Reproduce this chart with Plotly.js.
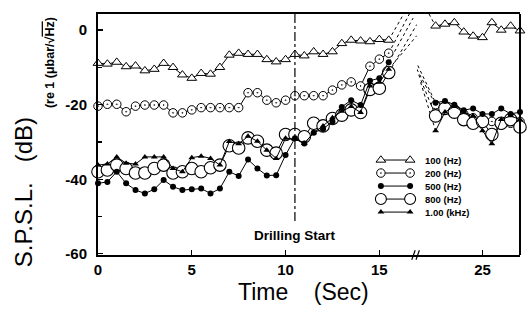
<!DOCTYPE html>
<html><head><meta charset="utf-8">
<script src="https://cdn.plot.ly/plotly-3.0.1.min.js"></script>
<style>html,body{margin:0;padding:0;background:#fff;}#chart{width:528px;height:309px;}</style>
</head><body><div id="chart"></div>
<script>
// ---- data ----
const timeLeft = [0,0.5,1,1.5,2,2.5,3,3.5,4,4.5,5,5.5,6,6.5,7,7.5,8,8.5,9,9.5,10,10.5,11,11.5,12,12.5,13,13.5,14,14.5,15,15.5];
const timeRight = [22.5,23,23.5,24,24.5,25,25.5,26,26.5,27];

const hz100Left = [-8.9,-9.1,-8.6,-9.8,-9.6,-10.9,-10.5,-8.9,-10,-12,-12.9,-11.6,-11.8,-10,-6.7,-6.2,-6.5,-6.5,-7.9,-8.5,-7.9,-6.5,-6.9,-5.8,-6.5,-5.8,-3.6,-2.7,-2.9,-3.1,-2.5,-2.7];
const hz200Left = [-20.4,-19.9,-19.9,-21.9,-20.4,-20.1,-20.1,-20.1,-22.2,-22.2,-21.4,-20.8,-20.8,-20.8,-20.8,-20.8,-16.8,-16.8,-18.8,-19.5,-18.8,-17.6,-17.6,-17.6,-17.6,-16.1,-14.7,-13.9,-15.0,-9.7,-7.8,-6.2];
const hz500Left = [-41.1,-40.7,-38,-41.1,-42.9,-43.8,-42.7,-40.2,-42,-42.9,-42.7,-42.5,-43.8,-42.5,-38,-39.1,-34.7,-37.1,-39,-38.9,-33.5,-29,-30.4,-27.5,-26.5,-24.5,-20.6,-18.8,-20.1,-13.6,-12.9,-8.6];
const hz800Left = [-38,-37.5,-36.2,-37.1,-38.3,-38.3,-37.1,-36.2,-38.3,-38,-37.1,-38,-36.9,-36.2,-31,-31.6,-28.9,-29.8,-32.2,-33,-28,-28,-28.6,-25,-25.7,-23.7,-22.8,-21.4,-22.1,-15.9,-15.6,-11.4];
const khz1Left = [-36.2,-35.9,-34,-35.7,-35.9,-34,-34,-34,-37.1,-38,-34.2,-33.8,-34.4,-36.2,-29.9,-30.5,-28.5,-29.8,-32.2,-34.4,-29,-29.2,-30.4,-27.5,-25.7,-23.5,-21.8,-20.5,-22.1,-15,-14,-10.5];

const hz100Right = [1.1,1.6,2.0,-0.5,-1.6,-2.0,2.0,0,1.1,-0.2];
const hz200Right = [-20,-21,-21,-22.5,-23.5,-24,-24.5,-25.5,-25,-24.5];
const hz500Right = [-19.5,-19,-20,-21.5,-21,-22.5,-22.5,-21,-22.5,-22];
const hz800Right = [-23,-21,-22,-24,-25,-24.5,-28,-25,-24,-26];
const khz1Right = [-27,-22,-20.5,-22,-23,-27,-30.5,-24,-23,-24];

// dotted extrapolations toward the axis break (time, value)
const extLeftTime = {hz100:[15.5,16.3], hz200:[15.5,16.6], hz500:[15.5,16.8], hz800:[15.5,17.0], khz1:[15.5,17.0]};
const extLeftVal  = {hz100:[-2.7,4.3], hz200:[-6.2,4.3], hz500:[-8.6,3.2], hz800:[-11.4,1.5], khz1:[-10.5,-1.5]};
const extRightTime = {hz100:[22.15,22.5], hz200:[21.5,22.5], hz500:[21.55,22.5], hz800:[21.6,22.5], khz1:[21.7,22.5]};
const extRightVal  = {hz100:[4.3,1.1], hz200:[-10.5,-20], hz500:[-9.5,-19.5], hz800:[-12,-23], khz1:[-14,-27]};

const seriesNames = ['100 (Hz)','200 (Hz)','500 (Hz)','800 (Hz)','1.00 (kHz)'];
const yTickVals = [0,-20,-40,-60];
const yTickText = ['0','-20','-40','-60'];
const xTickLeft = [0,5,10,15];
const xTickRight = [25];
const drillTime = 10.5;

// ---- styles ----
const K = '#000';
const styles = {
  hz100: {symbol:'triangle-up', size:8.5, color:'#fff', line:{color:K,width:1}},
  hz200: {symbol:'circle-dot', size:8.5, color:'#fff', line:{color:K,width:1}},
  hz500: {symbol:'circle', size:6, color:K, line:{color:K,width:0}},
  hz800: {symbol:'circle', size:12.5, color:'#fff', line:{color:K,width:1.1}},
  khz1: {symbol:'triangle-up', size:6, color:K, line:{color:K,width:0}}
};
const leftData = {hz100:hz100Left, hz200:hz200Left, hz500:hz500Left, hz800:hz800Left, khz1:khz1Left};
const rightData = {hz100:hz100Right, hz200:hz200Right, hz500:hz500Right, hz800:hz800Right, khz1:khz1Right};
const order = ['hz100','hz200','hz800','hz500','khz1'];
const keys = ['hz100','hz200','hz500','hz800','khz1'];

const traces = [];
order.forEach(k => {
  traces.push({x:extLeftTime[k], y:extLeftVal[k], xaxis:'x', yaxis:'y', mode:'lines', line:{color:K,width:1,dash:'dot'}, showlegend:false, hoverinfo:'skip'});
  traces.push({x:extRightTime[k], y:extRightVal[k], xaxis:'x2', yaxis:'y', mode:'lines', line:{color:K,width:1,dash:'dot'}, showlegend:false, hoverinfo:'skip'});
});
order.forEach(k => {
  traces.push({x:timeLeft, y:leftData[k], xaxis:'x', yaxis:'y', mode:'lines+markers', line:{color:K,width:1}, marker:styles[k], showlegend:false, cliponaxis:false});
  traces.push({x:timeRight, y:rightData[k], xaxis:'x2', yaxis:'y', mode:'lines+markers', line:{color:K,width:1}, marker:styles[k], showlegend:false, cliponaxis:false});
});
keys.forEach((k,i) => {
  traces.push({x:[0,1], y:[i,i], xaxis:'x3', yaxis:'y3', mode:'lines+markers', line:{color:K,width:1}, marker:Object.assign({}, styles[k], k==='hz800'?{size:11}:{}), showlegend:false, hoverinfo:'skip', cliponaxis:false});
});

const FONT = 'Liberation Sans, Arial, sans-serif';
const splitFrac = 17/(17+5.5);

const annotations = [
  {xref:'paper', yref:'paper', x:-0.178, y:0.26, text:'S.P.S.L.&nbsp;&nbsp;&nbsp;(dB)', textangle:-90, showarrow:false, font:{family:FONT,size:24,color:K}, xanchor:'center', yanchor:'middle'},
  {xref:'paper', yref:'paper', x:-0.114, y:0.80, text:'(re 1 (μbar/√<span style="text-decoration:overline">Hz</span>)', textangle:-90, showarrow:false, font:{family:FONT,size:12.5,color:K,weight:700}, xanchor:'center', yanchor:'middle'},
  {xref:'paper', yref:'paper', x:0.486, y:-0.155, text:'Time&nbsp;&nbsp;&nbsp;&nbsp;(Sec)', showarrow:false, font:{family:FONT,size:23,color:K}, xanchor:'center', yanchor:'middle'},
  {xref:'x', yref:'y', x:drillTime, y:-55, text:'<b>Drilling Start</b>', showarrow:false, font:{family:FONT,size:13.5,color:K}, xanchor:'center', yanchor:'middle'}
];
keys.forEach((k,i) => {
  annotations.push({xref:'paper', yref:'y3', x:0.77, y:i, text:'<b>'+seriesNames[i]+'</b>', showarrow:false, font:{family:FONT,size:9.5,color:K}, xanchor:'left', yanchor:'middle'});
});

const axisCommon = {showgrid:false, zeroline:false, showline:true, linecolor:K, linewidth:2, ticks:'inside', ticklen:5, tickcolor:K, tickwidth:1.2, tickfont:{family:FONT,size:15,color:K,weight:700}, mirror:true};

const layout = {
  width:528, height:309,
  margin:{l:98, r:8, t:14, b:54},
  paper_bgcolor:'#fff', plot_bgcolor:'#fff',
  showlegend:false,
  xaxis: Object.assign({}, axisCommon, {domain:[0,splitFrac], range:[0,17], tickmode:'array', tickvals:xTickLeft, anchor:'y'}),
  xaxis2: Object.assign({}, axisCommon, {domain:[splitFrac,1], range:[21.5,27], tickmode:'array', tickvals:xTickRight, anchor:'y'}),
  yaxis: Object.assign({}, axisCommon, {range:[-60.3,4.3], tickmode:'array', tickvals:yTickVals, ticktext:yTickText, ticklabelstandoff:6, mirror:false, minor:{ticks:'inside', ticklen:4, tickcolor:K, dtick:10, tick0:0}}),
  xaxis3: {domain:[0.66,0.75], range:[-0.15,1.15], visible:false, anchor:'y3', fixedrange:true},
  yaxis3: {domain:[0.15,0.42], range:[4.52,-0.48], visible:false, anchor:'x3', fixedrange:true},
  annotations: annotations,
  shapes: [
    {type:'line', xref:'x', yref:'y', x0:drillTime, x1:drillTime, y0:4.3, y1:-51.5, line:{color:K, width:1.2, dash:'dashdot'}},
    {type:'line', xref:'paper', yref:'paper', x0:1, x1:1, y0:0, y1:1, line:{color:K, width:2}},
    {type:'line', xref:'paper', yref:'paper', x0:splitFrac-0.012, x1:splitFrac-0.004, y0:-0.02, y1:0.02, line:{color:K, width:1.2}},
    {type:'line', xref:'paper', yref:'paper', x0:splitFrac-0.002, x1:splitFrac+0.006, y0:-0.02, y1:0.02, line:{color:K, width:1.2}}
  ]
};

Plotly.newPlot('chart', traces, layout, {staticPlot:true, displayModeBar:false});
</script>
</body></html>
